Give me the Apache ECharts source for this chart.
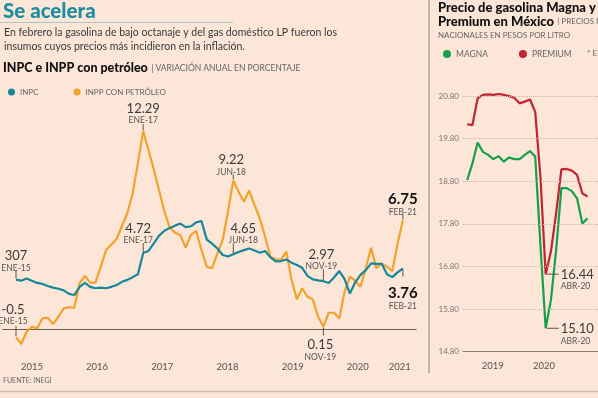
<!DOCTYPE html>
<html>
<head>
<meta charset="utf-8">
<script src="https://cdn.jsdelivr.net/npm/echarts@6/dist/echarts.min.js"></script>
<style>
  html, body { margin: 0; padding: 0; background: #fbe6d8; overflow: hidden; }
  #main { width: 598px; height: 398px; }
</style>
</head>
<body>
<div id="main"></div>
<script>
// INPC e INPP con petróleo, variación anual (%), mensual ENE-15 .. FEB-21
var inpc = [
  3.07, 3.00, 3.14, 3.00, 2.86, 2.80, 2.67, 2.57, 2.50, 2.40, 2.18, 2.11,
  2.61, 2.87, 2.62, 2.53, 2.57, 2.53, 2.62, 2.73, 2.93, 3.05, 3.22, 3.40,
  4.72, 4.85, 5.32, 5.80, 6.10, 6.28, 6.42, 6.55, 6.33, 6.38, 6.63, 6.70,
  5.55, 5.30, 5.00, 4.60, 4.50, 4.65, 4.78, 4.90, 5.00, 4.88, 4.74, 4.84,
  4.45, 4.20, 4.22, 4.32, 4.12, 3.97, 3.80, 3.30, 3.08, 3.02, 2.97, 2.86,
  3.20, 3.60, 3.10, 2.20, 2.90, 3.36, 3.66, 4.08, 4.04, 4.05, 3.40, 3.22,
  3.52, 3.76
];
var inpp = [
  -0.50, -0.93, -0.17, 0.14, 0.04, 0.66, 0.70, 0.30, 0.76, 1.28, 1.35, 1.32,
  2.85, 3.30, 2.88, 2.88, 3.87, 4.90, 5.25, 5.60, 6.40, 7.19, 8.40, 10.30,
  12.29, 11.10, 9.90, 8.60, 7.30, 6.30, 5.98, 5.84, 5.05, 5.84, 6.09, 4.90,
  3.87, 3.77, 4.70, 5.53, 7.30, 9.22, 8.53, 7.91, 8.60, 7.70, 6.88, 5.73,
  4.49, 4.33, 4.29, 4.80, 3.04, 1.84, 2.53, 2.00, 1.84, 0.76, 0.15, 1.01,
  1.01, 0.66, 2.32, 3.25, 3.00, 2.63, 3.77, 5.05, 3.77, 4.08, 3.87, 3.60,
  5.32, 6.75
];
var yearLabels = ['2015', '2016', '2017', '2018', '2019', '2020', '2021'];
var yearLabelAt = [3, 15.3, 27.6, 39.9, 52.2, 64.5, 72.4];

// Precio de gasolina (pesos por litro), mensual ENE-19 .. DIC-20
var magna = [
  18.83, 19.22, 19.71, 19.49, 19.42, 19.32, 19.39, 19.26, 19.36, 19.32, 19.32, 19.42,
  19.51, 19.38, 17.30, 15.35, 16.01, 17.19, 18.64, 18.64, 18.57, 18.40, 17.81, 17.93
];
var premium = [
  20.14, 20.12, 20.75, 20.83, 20.84, 20.83, 20.85, 20.83, 20.80, 20.76, 20.63, 20.67,
  20.72, 20.43, 18.90, 16.62, 17.15, 18.05, 19.08, 19.09, 19.05, 18.95, 18.52, 18.44
];
var gasYearLabels = ['2019', '2020'];
var gasYearAt = [4.9, 14.7];
var gasTicks = [14.8, 15.8, 16.8, 17.8, 18.8, 19.8, 20.8];

// notas: [indice, texto, fecha]
var notasInpc = [[0, '307', 'ENE-15'], [24, '4.72', 'ENE-17'], [41, '4.65', 'JUN-18'], [58, '2.97', 'NOV-19'], [73, '3.76', 'FEB-21']];
var notasInpp = [[0, '-0.5', 'ENE-15'], [24, '12.29', 'ENE-17'], [41, '9.22', 'JUN-18'], [58, '0.15', 'NOV-19'], [73, '6.75', 'FEB-21']];
var notasGas = [[15, '15.10', 'ABR-20'], [15, '16.44', 'ABR-20']];

var FONT = 'Lato, "Open Sans", sans-serif';
var rich = {
  v: { fontFamily: FONT, fontSize: 13, color: '#3c3c3c', lineHeight: 13 },
  vb: { fontFamily: FONT, fontSize: 15, fontWeight: 'bold', color: '#111', lineHeight: 15 },
  d: { fontFamily: FONT, fontSize: 8.5, color: '#555', lineHeight: 11 }
};
// estilos de cada nota (largo del trazo, desplazamiento)
var estiloInpc = [{ len: 8, dy: 5 }, { len: 9, dx: -5, dy: 5 }, { len: 10, dx: 10, dy: 5 }, { len: 11, dx: -2, dy: 5 }, { len: 7, below: true, bold: true, dist: 9 }];
var estiloInpp = [{ len: 10, dx: -3, dy: 3 }, { len: 6, dy: 4 }, { len: 5, dx: -2, dy: 5 }, { len: 8, below: true, dx: -3, dy: 1 }, { len: 5, bold: true, dy: 5 }];

function notaV(serie, n, o) {
  var i = n[0];
  var len = o.len, below = !!o.below;
  return {
    coord: [i, serie[i]],
    symbol: 'rect',
    symbolSize: [1, len],
    symbolOffset: [0, below ? len / 2 + 1 : -(len / 2 + 1)],
    itemStyle: { color: '#5e524b' },
    label: {
      show: true,
      position: below ? 'bottom' : 'top',
      distance: o.dist || 2,
      offset: [o.dx || 0, o.dy || 0],
      align: 'center',
      formatter: '{' + (o.bold ? 'vb' : 'v') + '|' + n[1] + '}\n{d|' + n[2] + '}',
      rich: rich
    }
  };
}
function notaH(serie, n) {
  var i = n[0];
  return {
    coord: [i, serie[i]],
    symbol: 'rect',
    symbolSize: [12, 1],
    symbolOffset: [7, 0],
    itemStyle: { color: '#5e524b' },
    label: {
      show: true,
      position: 'right',
      distance: 2,
      offset: [0, 6],
      formatter: '{v|' + n[1] + '}\n{d|' + n[2] + '}',
      rich: rich
    }
  };
}
function pares(arr) { return arr.map(function (v, i) { return [i, v]; }); }

var chart = echarts.init(document.getElementById('main'));
var option = {
  backgroundColor: '#fbe6d8',
  animation: false,
  textStyle: { fontFamily: FONT },
  legend: [
    {
      data: ['INPC', 'INPP CON PETRÓLEO'],
      left: 3, top: 83, icon: 'circle', itemWidth: 7, itemHeight: 7, itemGap: 35,
      textStyle: { fontSize: 8, color: '#666' }
    },
    {
      data: ['MAGNA', 'PREMIUM'],
      left: 438, top: 44.5, icon: 'circle', itemWidth: 8, itemHeight: 8, itemGap: 31,
      textStyle: { fontSize: 8.5, color: '#666' }
    }
  ],
  grid: [
    { left: 2.75, right: 181.85, top: 119.7, bottom: 44.85 },
    { left: 463, right: -14.6, top: 96.1, bottom: 46.3 }
  ],
  xAxis: [
    {
      gridIndex: 0, type: 'value', min: -2.5, max: 75.5,
      splitLine: { show: false }, axisTick: { show: false },
      axisLine: { onZero: true, lineStyle: { color: '#6b5e56', width: 1 } },
      axisLabel: {
        customValues: yearLabelAt, margin: 9, fontSize: 9.5, color: '#555',
        formatter: function (v) { return yearLabels[yearLabelAt.indexOf(v)]; }
      }
    },
    {
      gridIndex: 1, type: 'value', min: -0.8, max: 25,
      splitLine: { show: false }, axisTick: { show: false },
      axisLine: { onZero: false, lineStyle: { color: '#8a7e76', width: 1 } },
      axisLabel: {
        customValues: gasYearAt, margin: 9, fontSize: 9.5, color: '#555',
        formatter: function (v) { return gasYearLabels[gasYearAt.indexOf(v)]; }
      }
    }
  ],
  yAxis: [
    { gridIndex: 0, type: 'value', min: -1.5, max: 13, show: false },
    {
      gridIndex: 1, type: 'value', min: 14.8, max: 20.8,
      axisLine: { show: false }, axisTick: { show: false },
      splitLine: { show: false },
      axisLabel: {
        customValues: gasTicks, margin: 4, fontSize: 8, color: '#777',
        formatter: function (v) { return v.toFixed(2); }
      }
    }
  ],
  series: [
    {
      name: 'INPP CON PETRÓLEO', type: 'line', xAxisIndex: 0, yAxisIndex: 0,
      data: pares(inpp), showSymbol: false, color: '#f3a22b',
      lineStyle: { width: 2.2 },
      markPoint: { silent: true, data: notasInpp.map(function (n, k) { return notaV(inpp, n, estiloInpp[k]); }) }
    },
    {
      name: 'INPC', type: 'line', xAxisIndex: 0, yAxisIndex: 0,
      data: pares(inpc), showSymbol: false, color: '#17879a',
      lineStyle: { width: 2.2 },
      markPoint: { silent: true, data: notasInpc.map(function (n, k) { return notaV(inpc, n, estiloInpc[k]); }) }
    },
    {
      name: 'MAGNA', type: 'line', xAxisIndex: 1, yAxisIndex: 1, clip: false,
      data: pares(magna), showSymbol: false, color: '#17a04a',
      lineStyle: { width: 2.2 },
      markLine: {
        silent: true, symbol: 'none', label: { show: false },
        lineStyle: { color: '#c9b8ab', type: 'dotted', width: 1 },
        data: gasTicks.slice(1).map(function (t) { return { yAxis: t }; })
      },
      markPoint: { silent: true, data: [notaH(magna, notasGas[0])] }
    },
    {
      name: 'PREMIUM', type: 'line', xAxisIndex: 1, yAxisIndex: 1, clip: false,
      data: pares(premium), showSymbol: false, color: '#c32432',
      lineStyle: { width: 2.2 },
      markPoint: { silent: true, data: [notaH(premium, notasGas[1])] }
    }
  ],
  graphic: [
    { type: 'text', x: 3, y: 11, style: { text: 'Se acelera', font: '900 20.5px ' + FONT, fill: '#1b8fa1', textVerticalAlign: 'middle' } },
    { type: 'line', shape: { x1: 0, y1: 22.5, x2: 233, y2: 22.5 }, style: { stroke: '#a9c6c6', lineWidth: 1 } },
    { type: 'text', x: 4, y: 33, style: { text: 'En febrero la gasolina de bajo octanaje y del gas doméstico LP fueron los', font: '10.5px ' + FONT, fill: '#3a3a3a', textVerticalAlign: 'middle' } },
    { type: 'text', x: 4, y: 47, style: { text: 'insumos cuyos precios más incidieron en la inflación.', font: '10.5px ' + FONT, fill: '#3a3a3a', textVerticalAlign: 'middle' } },
    {
      type: 'text', x: 3, y: 68, style: {
        text: '{b|INPC e INPP con petróleo} {s|| VARIACIÓN ANUAL EN PORCENTAJE}', textVerticalAlign: 'middle',
        rich: { b: { font: '900 12.5px ' + FONT, fill: '#111' }, s: { font: '8.5px ' + FONT, fill: '#666' } }
      }
    },
    { type: 'text', x: 3, y: 381, style: { text: 'FUENTE: INEGI', font: '7px ' + FONT, fill: '#666', textVerticalAlign: 'middle' } },
    { type: 'line', shape: { x1: 429, y1: 0, x2: 429, y2: 373 }, style: { stroke: '#8c817a', lineWidth: 1 } },
    { type: 'line', shape: { x1: 0, y1: 391.5, x2: 598, y2: 391.5 }, style: { stroke: '#cbbdb2', lineWidth: 1.5 } },
    { type: 'text', x: 438, y: 8, style: { text: 'Precio de gasolina Magna y', font: '900 13px ' + FONT, fill: '#111', textVerticalAlign: 'middle' } },
    {
      type: 'text', x: 438, y: 21.5, style: {
        text: '{b|Premium en México} {s|| PRECIOS PROMEDIO}', textVerticalAlign: 'middle',
        rich: { b: { font: '900 13px ' + FONT, fill: '#111' }, s: { font: '8px ' + FONT, fill: '#666' } }
      }
    },
    { type: 'text', x: 438, y: 35, style: { text: 'NACIONALES EN PESOS POR LITRO', font: '8px ' + FONT, fill: '#666', textVerticalAlign: 'middle' } },
    { type: 'text', x: 587, y: 53, style: { text: '* E', font: '8px ' + FONT, fill: '#666', textVerticalAlign: 'middle' } }
  ]
};
chart.setOption(option);
</script>
</body>
</html>
